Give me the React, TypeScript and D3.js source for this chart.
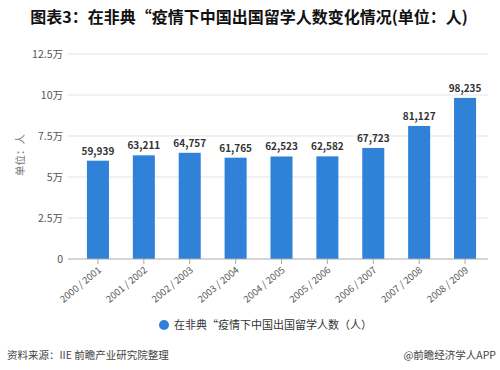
import React from 'react';
import * as d3 from 'd3';

// 2000/2001 - 2008/2009 出国留学人数
const years = ['2000/2001', '2001/2002', '2002/2003', '2003/2004', '2004/2005', '2005/2006', '2006/2007', '2007/2008', '2008/2009'];
const students = [59939, 63211, 64757, 61765, 62523, 62582, 67723, 81127, 98235];
const yTicks = [0, 25000, 50000, 75000, 100000, 125000];
const yTickLabels = ['0', '2.5万', '5万', '7.5万', '10万', '12.5万'];

const W = 500;
const H = 370;
const font = '"Microsoft YaHei", "Noto Sans CJK SC", sans-serif';

export default function App() {
	const xScale = d3.scaleBand().domain(years).range([75, 488]).paddingInner(0.52).paddingOuter(0.26);
	const yScale = d3.scaleLinear().domain([0, 125000]).range([259, 54]);
	const fmt = d3.format(',');

	return (
		<svg width={W} height={H} style={{ position: 'absolute', left: 0, top: 0, background: '#fff' }} fontFamily={font}>
			<text x={249} y={23} textAnchor="middle" fontSize={16} fontWeight="bold" fill="#111">
				图表3：在非典“疫情下中国出国留学人数变化情况(单位：人)
			</text>

			{/* grid + y ticks */}
			{yTicks.map((t, i) => (
				<g key={t}>
					{i > 0 && <line x1={68} x2={488} y1={yScale(t)} y2={yScale(t)} stroke="#e3e3e3" />}
					<text x={63} y={yScale(t) + 4} textAnchor="end" fontSize={10.5} fill="#555">
						{yTickLabels[i]}
					</text>
				</g>
			))}

			<text transform="translate(24,155) rotate(-90)" textAnchor="middle" fontSize={10.5} fill="#777">
				单位：人
			</text>

			{/* bars */}
			{years.map((y, i) => (
				<g key={y}>
					<rect
						x={xScale(y)}
						y={yScale(students[i])}
						width={xScale.bandwidth()}
						height={yScale(0) - yScale(students[i])}
						fill="#2f82d8"
					/>
					<text
						x={(xScale(y) as number) + xScale.bandwidth() / 2}
						y={yScale(students[i]) - 6}
						textAnchor="middle"
						fontSize={10}
						fontWeight="bold"
						fill="#333"
					>
						{fmt(students[i])}
					</text>
				</g>
			))}

			{/* x axis */}
			<line x1={68} x2={488} y1={yScale(0)} y2={yScale(0)} stroke="#aaa" />
			{years.map((y) => {
				const cx = (xScale(y) as number) + xScale.bandwidth() / 2;
				return (
					<g key={y}>
						<line x1={cx} x2={cx} y1={yScale(0)} y2={yScale(0) + 5} stroke="#aaa" />
						<text
							transform={`translate(${cx + 4},${yScale(0) + 12}) rotate(-40)`}
							textAnchor="end"
							fontSize={9.5}
							fill="#555"
						>
							{y.replace('/', ' / ')}
						</text>
					</g>
				);
			})}

			{/* legend */}
			<circle cx={164} cy={325} r={5} fill="#2f82d8" />
			<text x={174} y={329} fontSize={11} fill="#333">
				在非典“疫情下中国出国留学人数（人）
			</text>

			{/* footer */}
			<text x={7} y={359} fontSize={10.5} fill="#444">
				资料来源：IIE 前瞻产业研究院整理
			</text>
			<text x={496} y={359} textAnchor="end" fontSize={10.5} fill="#444">
				@前瞻经济学人APP
			</text>
		</svg>
	);
}
